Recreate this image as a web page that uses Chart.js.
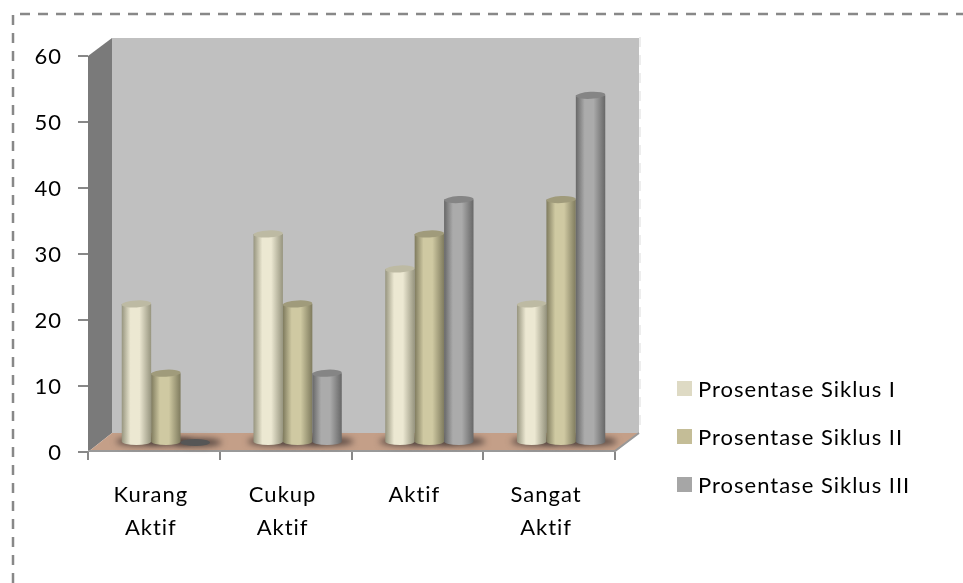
<!DOCTYPE html>
<html>
<head>
<meta charset="utf-8">
<title>Prosentase Siklus</title>
<script src="https://cdn.jsdelivr.net/npm/chart.js@4/dist/chart.umd.min.js"></script>
<style>
  html, body { margin: 0; padding: 0; background: #fff; overflow: hidden; }
  #wrap { position: relative; width: 963px; height: 583px; }
  #legend { position: absolute; left: 677px; top: 364px; font: 22px Lato, sans-serif; letter-spacing: 1px; color: #000; }
  #legend .item { display: flex; align-items: center; height: 48px; }
  #legend .box { width: 15px; height: 15px; margin-right: 6px; }
</style>
</head>
<body>
<div id="wrap">
  <canvas id="chart" width="963" height="583"></canvas>
  <div id="legend"></div>
</div>
<script>
const categories = [["Kurang", "Aktif"], ["Cukup", "Aktif"], ["Aktif"], ["Sangat", "Aktif"]];
const seriesNames = ["Prosentase Siklus I", "Prosentase Siklus II", "Prosentase Siklus III"];
const siklus1 = [21, 31.6, 26.3, 21];
const siklus2 = [10.5, 21, 31.6, 36.8];
const siklus3 = [0, 10.5, 36.8, 52.6];

// fake 3D depth of the box: back wall sits this far right/up of the axes
const DEPTH_X = 24;
const DEPTH_Y = 19;

const legendColors = ["#DEDAC4", "#C4BD97", "#A6A6A6"];
const cylinderColors = [
  { edge: "#97957F", mid: "#ECE8D2", top: "#BDBAA3" },
  { edge: "#7F7B5E", mid: "#CFC9A2", top: "#A09B7B" },
  { edge: "#676767", mid: "#ABABAB", top: "#858585" }
];

function polygon(ctx, points, fill) {
  ctx.beginPath();
  points.forEach((p, i) => (i ? ctx.lineTo(p[0], p[1]) : ctx.moveTo(p[0], p[1])));
  ctx.closePath();
  ctx.fillStyle = fill;
  ctx.fill();
}

const boxPlugin = {
  id: "box3d",
  beforeDraw(chart) {
    const ctx = chart.ctx;
    const { left, right, top, bottom } = chart.chartArea;

    // tick labels are spaced out a little
    ctx.letterSpacing = "1px";

    // dashed frame runs off the right and bottom of the page
    ctx.save();
    ctx.strokeStyle = "#888";
    ctx.lineWidth = 2.5;
    ctx.setLineDash([10, 8]);
    ctx.beginPath();
    ctx.moveTo(13, 583);
    ctx.lineTo(13, 14);
    ctx.lineTo(963, 14);
    ctx.stroke();
    ctx.restore();

    polygon(ctx, [[left + DEPTH_X, top - DEPTH_Y + 1], [right + DEPTH_X, top - DEPTH_Y + 1],
      [right + DEPTH_X, bottom - DEPTH_Y], [left + DEPTH_X, bottom - DEPTH_Y]], "#C0C0C0");
    polygon(ctx, [[left, top], [left + DEPTH_X, top - DEPTH_Y + 1],
      [left + DEPTH_X, bottom - DEPTH_Y], [left, bottom]], "#7A7A7A");
    polygon(ctx, [[left, bottom], [left + DEPTH_X, bottom - DEPTH_Y],
      [right + DEPTH_X, bottom - DEPTH_Y], [right, bottom]], "#C49F88");

    ctx.save();
    ctx.strokeStyle = "#999";
    ctx.lineWidth = 2;
    ctx.beginPath();
    ctx.moveTo(left, bottom - 1);
    ctx.lineTo(right, bottom - 1);
    ctx.lineTo(right + DEPTH_X, bottom - DEPTH_Y);
    ctx.stroke();
    ctx.strokeStyle = "#EDEDED";
    ctx.setLineDash([10, 8]);
    ctx.beginPath();
    ctx.moveTo(right + DEPTH_X + 1, top - DEPTH_Y);
    ctx.lineTo(right + DEPTH_X + 1, bottom - DEPTH_Y);
    ctx.stroke();
    ctx.restore();
  },
  // replaces the flat bars with cylinders standing mid-way into the box
  beforeDatasetsDraw(chart) {
    const ctx = chart.ctx;
    const dx = DEPTH_X / 2;
    const dy = DEPTH_Y / 2;
    const bars = [];
    chart.data.datasets.forEach((ds, i) => {
      chart.getDatasetMeta(i).data.forEach(bar => bars.push({ bar, i }));
    });

    ctx.save();
    ctx.filter = "blur(3px)";
    ctx.fillStyle = "rgba(70,58,54,0.9)";
    bars.forEach(({ bar }) => {
      ctx.beginPath();
      ctx.ellipse(bar.x + dx + 3, bar.base - dy, bar.width * 0.8, 4, 0, 0, Math.PI * 2);
      ctx.fill();
    });
    ctx.restore();

    bars.forEach(({ bar, i }) => {
      const c = cylinderColors[i];
      const x0 = bar.x + dx - bar.width / 2;
      const x1 = bar.x + dx + bar.width / 2;
      const cx = bar.x + dx;
      const yTop = bar.y - dy;
      const yBase = bar.base - dy;
      const ry = 3.5;

      if (bar.height < 1) {
        ctx.fillStyle = "#565656";
        ctx.beginPath();
        ctx.ellipse(cx, yBase, bar.width / 2, ry, 0, 0, Math.PI * 2);
        ctx.fill();
        return;
      }

      const g = ctx.createLinearGradient(x0, 0, x1, 0);
      g.addColorStop(0, c.edge);
      g.addColorStop(0.3, c.mid);
      g.addColorStop(0.6, c.mid);
      g.addColorStop(1, c.edge);
      ctx.fillStyle = g;
      ctx.beginPath();
      ctx.moveTo(x0, yTop);
      ctx.lineTo(x0, yBase);
      ctx.ellipse(cx, yBase, bar.width / 2, ry, 0, Math.PI, 0, true);
      ctx.lineTo(x1, yTop);
      ctx.closePath();
      ctx.fill();

      ctx.fillStyle = c.top;
      ctx.beginPath();
      ctx.ellipse(cx, yTop, bar.width / 2, ry, -0.05, 0, Math.PI * 2);
      ctx.fill();
    });
  },
  beforeDatasetDraw() {
    return false;
  }
};

const chart = new Chart(document.getElementById("chart"), {
  type: "bar",
  data: {
    labels: categories,
    datasets: [
      { label: seriesNames[0], data: siklus1, backgroundColor: legendColors[0] },
      { label: seriesNames[1], data: siklus2, backgroundColor: legendColors[1] },
      { label: seriesNames[2], data: siklus3, backgroundColor: legendColors[2] }
    ]
  },
  options: {
    responsive: false,
    animation: false,
    categoryPercentage: 0.67,
    barPercentage: 1,
    layout: { padding: { top: 56, right: 348, bottom: 0, left: 0 } },
    plugins: {
      legend: { display: false },
      tooltip: { enabled: false }
    },
    scales: {
      x: {
        afterFit(scale) { scale.height = 131; },
        grid: { drawOnChartArea: false, color: "#888", lineWidth: 2, tickLength: 8 },
        border: { display: false },
        ticks: {
          color: "#000",
          maxRotation: 0,
          padding: 18,
          labelOffset: -3,
          font: { family: "Lato, sans-serif", size: 22, lineHeight: 1.5 }
        }
      },
      y: {
        min: 0,
        max: 60,
        afterFit(scale) { scale.width = 88; },
        grid: { drawOnChartArea: false, color: "#888", lineWidth: 2, tickLength: 10 },
        border: { display: false },
        ticks: {
          stepSize: 10,
          color: "#000",
          padding: 16,
          labelOffset: 1,
          font: { family: "Lato, sans-serif", size: 22 }
        }
      }
    }
  },
  plugins: [boxPlugin]
});

// legend sits in the empty space right of the box
const legendEl = document.getElementById("legend");
chart.data.datasets.forEach(ds => {
  const item = document.createElement("div");
  item.className = "item";
  const box = document.createElement("span");
  box.className = "box";
  box.style.background = ds.backgroundColor;
  const text = document.createElement("span");
  text.textContent = ds.label;
  item.append(box, text);
  legendEl.appendChild(item);
});
</script>
</body>
</html>
